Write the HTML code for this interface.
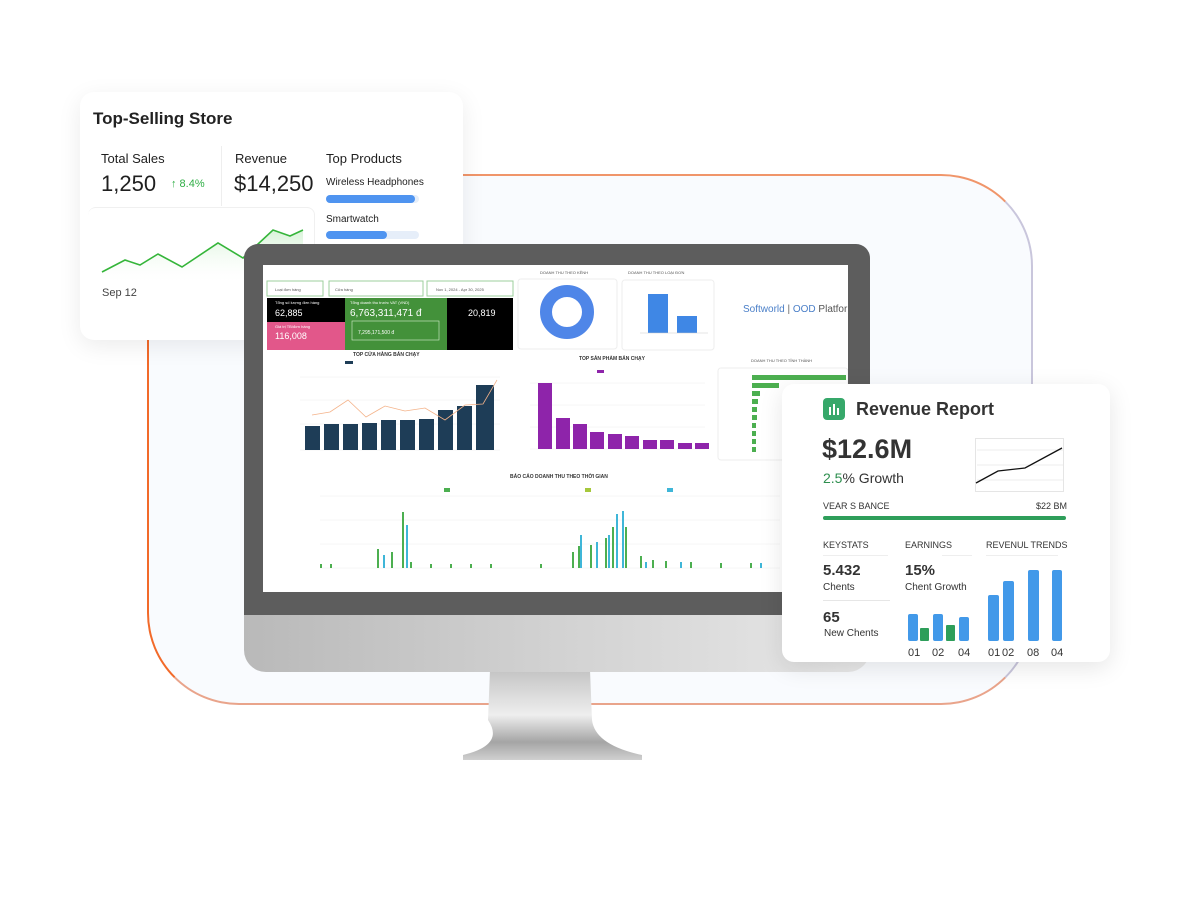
<!DOCTYPE html>
<html><head><meta charset="utf-8"><style>
*{margin:0;padding:0;box-sizing:border-box}
body{width:1200px;height:900px;background:#fff;position:relative;overflow:hidden;font-family:"Liberation Sans",sans-serif;color:#1f1f1f}
.a{position:absolute}
.t{position:absolute;white-space:nowrap}
</style></head><body>

<!-- background rounded frame -->
<div class="a" style="left:147px;top:174px;width:886px;height:531px;border-radius:92px;background:#f9fbfe;border:2px solid #c9c6dc;border-left-color:#f26a2a;border-bottom-color:#e9a48b;border-top-color:#f0956a"></div>

<!-- top-left card (behind monitor) -->
<div class="a" style="left:80px;top:92px;width:383px;height:248px;background:#fff;border-radius:14px;box-shadow:0 6px 24px rgba(0,0,0,.08)"></div>
<div class="t" style="left:93px;top:109px;font-size:17px;font-weight:bold;color:#222">Top-Selling Store</div>
<div class="a" style="left:221px;top:146px;width:1px;height:60px;background:#eee"></div>
<div class="t" style="left:101px;top:151px;font-size:13px">Total Sales</div>
<div class="t" style="left:101px;top:171px;font-size:22px">1,250</div>
<div class="t" style="left:171px;top:178px;font-size:11px;color:#2fae45">&#x2191; 8.4%</div>
<div class="t" style="left:235px;top:151px;font-size:13px">Revenue</div>
<div class="t" style="left:234px;top:171px;font-size:22px">$14,250</div>
<div class="t" style="left:326px;top:151px;font-size:13px">Top Products</div>
<div class="t" style="left:326px;top:177px;font-size:10px">Wireless Headphones</div>
<div class="a" style="left:326px;top:195px;width:93px;height:8px;border-radius:4px;background:#e6eef9"><div style="width:89px;height:8px;border-radius:4px;background:#4f94f0"></div></div>
<div class="t" style="left:326px;top:214px;font-size:10px">Smartwatch</div>
<div class="a" style="left:326px;top:231px;width:93px;height:8px;border-radius:4px;background:#e6eef9"><div style="width:61px;height:8px;border-radius:4px;background:#4f94f0"></div></div>
<div class="a" style="left:88px;top:207px;width:227px;height:125px;background:#fff;border-radius:8px;border-top:1px solid #f0f0f0;border-right:1px solid #f0f0f0"></div>
<svg class="a" style="left:0;top:0" width="320" height="340">
<defs><linearGradient id="ga" x1="0" y1="0" x2="0" y2="1"><stop offset="0" stop-color="#d8f3d8"/><stop offset="1" stop-color="#fff" stop-opacity="0"/></linearGradient></defs>
<polygon points="102,272 125,260 140,265 158,254 182,267 218,243 243,258 273,230 290,236 303,230 303,285 102,285" fill="url(#ga)"/>
<polyline points="102,272 125,260 140,265 158,254 182,267 218,243 243,258 273,230 290,236 303,230" fill="none" stroke="#35b53a" stroke-width="1.6"/>
</svg>
<div class="t" style="left:102px;top:287px;font-size:11px;color:#444">Sep 12</div>

<!-- monitor stand -->
<svg class="a" style="left:455px;top:660px" width="200" height="105">
<defs><linearGradient id="st" x1="0" y1="0" x2="0" y2="1"><stop offset="0" stop-color="#c4c4c4"/><stop offset=".5" stop-color="#eeeeee"/><stop offset=".8" stop-color="#a5a5a5"/><stop offset="1" stop-color="#d0d0d0"/></linearGradient></defs>
<path d="M35 10 L135 10 L137 60 Q140 85 187 95 L187 100 L8 100 L8 95 Q50 85 33 60 Z" fill="url(#st)"/>
</svg>
<!-- chin -->
<div class="a" style="left:244px;top:600px;width:626px;height:72px;border-radius:0 0 22px 22px;background:linear-gradient(90deg,#b9b9b9,#d2d2d2 50%,#e8e8e8)"></div>
<!-- bezel -->
<div class="a" style="left:244px;top:244px;width:626px;height:371px;border-radius:14px 14px 0 0;background:#5d5d5d"></div>
<!-- screen -->
<div class="a" style="left:263px;top:265px;width:585px;height:327px;background:#fff;overflow:hidden">
<svg width="585" height="327" style="position:absolute;left:0;top:0;font-family:'Liberation Sans',sans-serif">
<g transform="translate(-263,-265)">
<rect x="267" y="281" width="56" height="15" fill="#fff" stroke="#9ccf9c"/>
<rect x="329" y="281" width="94" height="15" fill="#fff" stroke="#9ccf9c"/>
<rect x="427" y="281" width="86" height="15" fill="#fff" stroke="#9ccf9c"/>
<text x="275" y="291" font-size="4" fill="#555">Loại đơn hàng</text>
<text x="335" y="291" font-size="4" fill="#555">Cửa hàng</text>
<text x="436" y="291" font-size="4" fill="#555">Nov 1, 2024 - Apr 30, 2025</text>
<rect x="267" y="298" width="78" height="25" fill="#000"/>
<rect x="267" y="322" width="78" height="28" fill="#e2578a"/>
<rect x="345" y="298" width="102" height="52" fill="#43913a"/>
<rect x="447" y="298" width="66" height="52" fill="#000"/>
<text x="275" y="304" font-size="4" fill="#fff">Tổng số lượng đơn hàng</text>
<text x="275" y="316" font-size="9" fill="#fff">62,885</text>
<text x="275" y="328" font-size="4" fill="#fff">Giá trị TB/đơn hàng</text>
<text x="275" y="339" font-size="9" fill="#fff">116,008</text>
<text x="350" y="304" font-size="4" fill="#fff">Tổng doanh thu trước VAT (VND)</text>
<text x="350" y="316" font-size="10" fill="#fff">6,763,311,471 đ</text>
<rect x="352" y="321" width="87" height="19" fill="none" stroke="#d8efd0" stroke-width=".6"/>
<text x="358" y="334" font-size="5" fill="#fff">7,295,171,500 đ</text>
<text x="468" y="316" font-size="9" fill="#fff">20,819</text>
<rect x="518" y="279" width="99" height="70" rx="3" fill="#fff" stroke="#eee"/>
<text x="540" y="274" font-size="4" fill="#555">DOANH THU THEO KÊNH</text>
<circle cx="567" cy="312" r="21" fill="none" stroke="#4f86e8" stroke-width="12"/>
<rect x="622" y="280" width="92" height="70" rx="3" fill="#fff" stroke="#eee"/>
<text x="628" y="274" font-size="4" fill="#555">DOANH THU THEO LOẠI ĐƠN</text>
<rect x="648" y="294" width="20" height="39" fill="#3f87e5"/>
<rect x="677" y="316" width="20" height="17" fill="#3f87e5"/>
<line x1="640" y1="333" x2="708" y2="333" stroke="#ccc" stroke-width=".5"/>
<text x="743" y="312" font-size="10" fill="#4a7fc8">Softworld <tspan fill="#666">|</tspan> OOD <tspan fill="#555">Platform</tspan></text>
<text x="353" y="356" font-size="5" font-weight="bold" fill="#333">TOP CỬA HÀNG BÁN CHẠY</text>
<rect x="345" y="361" width="8" height="3" fill="#1e3d57"/>
<g stroke="#eee" stroke-width=".5"><line x1="300" y1="377" x2="500" y2="377"/><line x1="300" y1="400" x2="500" y2="400"/><line x1="300" y1="424" x2="500" y2="424"/><line x1="300" y1="450" x2="500" y2="450"/></g>
<g fill="#1e3d57">
<rect x="305" y="426" width="15" height="24"/><rect x="324" y="424" width="15" height="26"/><rect x="343" y="424" width="15" height="26"/><rect x="362" y="423" width="15" height="27"/><rect x="381" y="420" width="15" height="30"/><rect x="400" y="420" width="15" height="30"/><rect x="419" y="419" width="15" height="31"/><rect x="438" y="410" width="15" height="40"/><rect x="457" y="406" width="15" height="44"/><rect x="476" y="385" width="18" height="65"/>
</g>
<polyline points="312,415 330,412 348,400 366,417 385,406 405,411 425,408 445,420 465,405 483,404 497,380" fill="none" stroke="#f4b38a" stroke-width=".8"/>
<text x="579" y="360" font-size="5" font-weight="bold" fill="#333">TOP SẢN PHẨM BÁN CHẠY</text>
<rect x="597" y="370" width="7" height="3" fill="#8e24aa"/>
<g stroke="#eee" stroke-width=".5"><line x1="530" y1="383" x2="705" y2="383"/><line x1="530" y1="405" x2="705" y2="405"/><line x1="530" y1="427" x2="705" y2="427"/><line x1="530" y1="449" x2="705" y2="449"/></g>
<g fill="#8e24aa">
<rect x="538" y="383" width="14" height="66"/><rect x="556" y="418" width="14" height="31"/><rect x="573" y="424" width="14" height="25"/><rect x="590" y="432" width="14" height="17"/><rect x="608" y="434" width="14" height="15"/><rect x="625" y="436" width="14" height="13"/><rect x="643" y="440" width="14" height="9"/><rect x="660" y="440" width="14" height="9"/><rect x="678" y="443" width="14" height="6"/><rect x="695" y="443" width="14" height="6"/>
</g>
<text x="751" y="362" font-size="4" fill="#555">DOANH THU THEO TỈNH THÀNH</text>
<rect x="718" y="368" width="130" height="92" rx="3" fill="#fff" stroke="#eee"/>
<g fill="#4caf50">
<rect x="752" y="375" width="94" height="5"/><rect x="752" y="383" width="27" height="5"/><rect x="752" y="391" width="8" height="5"/><rect x="752" y="399" width="6" height="5"/><rect x="752" y="407" width="5" height="5"/><rect x="752" y="415" width="5" height="5"/><rect x="752" y="423" width="4" height="5"/><rect x="752" y="431" width="4" height="5"/><rect x="752" y="439" width="4" height="5"/><rect x="752" y="447" width="4" height="5"/>
</g>
<text x="510" y="478" font-size="5" font-weight="bold" fill="#333">BÁO CÁO DOANH THU THEO THỜI GIAN</text>
<rect x="444" y="488" width="6" height="4" fill="#4caf50"/><rect x="585" y="488" width="6" height="4" fill="#a6c83c"/><rect x="667" y="488" width="6" height="4" fill="#3fb6d8"/>
<g stroke="#eee" stroke-width=".5"><line x1="320" y1="496" x2="780" y2="496"/><line x1="320" y1="520" x2="780" y2="520"/><line x1="320" y1="544" x2="780" y2="544"/><line x1="320" y1="568" x2="780" y2="568"/></g>
<g fill="#4caf50">
<rect x="320" y="564" width="2" height="4"/><rect x="330" y="564" width="2" height="4"/><rect x="377" y="549" width="2" height="19"/><rect x="391" y="552" width="2" height="16"/><rect x="402" y="512" width="2" height="56"/><rect x="410" y="562" width="2" height="6"/><rect x="430" y="564" width="2" height="4"/><rect x="450" y="564" width="2" height="4"/><rect x="470" y="564" width="2" height="4"/><rect x="490" y="564" width="2" height="4"/><rect x="540" y="564" width="2" height="4"/><rect x="572" y="552" width="2" height="16"/><rect x="578" y="546" width="2" height="22"/><rect x="590" y="545" width="2" height="23"/><rect x="605" y="538" width="2" height="30"/><rect x="612" y="527" width="2" height="41"/><rect x="625" y="527" width="2" height="41"/><rect x="640" y="556" width="2" height="12"/><rect x="652" y="560" width="2" height="8"/><rect x="665" y="561" width="2" height="7"/><rect x="690" y="562" width="2" height="6"/><rect x="720" y="563" width="2" height="5"/><rect x="750" y="563" width="2" height="5"/>
</g>
<g fill="#3fb6d8">
<rect x="383" y="555" width="2" height="13"/><rect x="406" y="525" width="2" height="43"/><rect x="580" y="535" width="2" height="33"/><rect x="596" y="542" width="2" height="26"/><rect x="608" y="535" width="2" height="33"/><rect x="616" y="514" width="2" height="54"/><rect x="622" y="511" width="2" height="57"/><rect x="645" y="562" width="2" height="6"/><rect x="680" y="562" width="2" height="6"/><rect x="760" y="563" width="2" height="5"/>
</g>
</g></svg>
</div>

<!-- revenue report card -->
<div class="a" style="left:782px;top:384px;width:328px;height:278px;background:#fff;border-radius:12px;box-shadow:0 6px 24px rgba(0,0,0,.1)"></div>
<div class="a" style="left:823px;top:398px;width:22px;height:22px;border-radius:4px;background:#36a86a"></div>
<div class="a" style="left:829px;top:407px;width:2px;height:8px;background:#fff"></div>
<div class="a" style="left:833px;top:404px;width:2px;height:11px;background:#fff"></div>
<div class="a" style="left:837px;top:408px;width:2px;height:7px;background:#fff"></div>
<div class="t" style="left:856px;top:399px;font-size:18px;font-weight:bold;color:#333">Revenue Report</div>
<div class="t" style="left:822px;top:434px;font-size:27px;font-weight:bold;color:#333">$12.6M</div>
<div class="t" style="left:823px;top:470px;font-size:14px;color:#333"><span style="color:#2e8f4f">2.5</span>% Growth</div>
<svg class="a" style="left:975px;top:438px" width="90" height="54">
<rect x=".5" y=".5" width="88" height="53" fill="#fff" stroke="#e5e5e5"/>
<line x1="2" y1="12" x2="88" y2="12" stroke="#eee"/><line x1="2" y1="27" x2="88" y2="27" stroke="#eee"/><line x1="2" y1="42" x2="88" y2="42" stroke="#eee"/>
<polyline points="1,45 23,33 50,30 87,10" fill="none" stroke="#111" stroke-width="1.3"/>
</svg>
<div class="t" style="left:823px;top:501px;font-size:9px;color:#333">VEAR S BANCE</div>
<div class="t" style="left:1036px;top:501px;font-size:9px;color:#333">$22 BM</div>
<div class="a" style="left:823px;top:516px;width:243px;height:4px;border-radius:2px;background:#2e9e5a"></div>
<div class="t" style="left:823px;top:540px;font-size:9px;color:#333">KEYSTATS</div>
<div class="t" style="left:905px;top:540px;font-size:9px;color:#333">EARNINGS</div>
<div class="t" style="left:986px;top:540px;font-size:9px;color:#333">REVENUL TRENDS</div>
<div class="a" style="left:823px;top:555px;width:65px;height:1px;background:#eee"></div>
<div class="a" style="left:942px;top:555px;width:30px;height:1px;background:#eee"></div>
<div class="a" style="left:986px;top:555px;width:72px;height:1px;background:#eee"></div>
<div class="t" style="left:823px;top:562px;font-size:15px;font-weight:bold;color:#333">5.432</div>
<div class="t" style="left:823px;top:582px;font-size:10px;color:#333">Chents</div>
<div class="a" style="left:823px;top:600px;width:67px;height:1px;background:#e6e6e6"></div>
<div class="t" style="left:823px;top:609px;font-size:15px;font-weight:bold;color:#333">65</div>
<div class="t" style="left:824px;top:628px;font-size:10px;color:#333">New Chents</div>
<div class="t" style="left:905px;top:562px;font-size:15px;font-weight:bold;color:#333">15%</div>
<div class="t" style="left:905px;top:582px;font-size:10px;color:#333">Chent Growth</div>
<svg class="a" style="left:900px;top:560px" width="170" height="100" font-family="Liberation Sans" font-size="11" fill="#333">
<g fill="#4299e9">
<rect x="8" y="54" width="10" height="27" rx="2"/><rect x="33" y="54" width="10" height="27" rx="2"/><rect x="59" y="57" width="10" height="24" rx="2"/>
<rect x="88" y="35" width="11" height="46" rx="2"/><rect x="103" y="21" width="11" height="60" rx="2"/><rect x="128" y="10" width="11" height="71" rx="2"/><rect x="152" y="10" width="10" height="71" rx="2"/>
</g>
<g fill="#2e9e5a"><rect x="20" y="68" width="9" height="13" rx="1"/><rect x="46" y="65" width="9" height="16" rx="1"/></g>
<text x="8" y="96">01</text><text x="32" y="96">02</text><text x="58" y="96">04</text>
<text x="88" y="96">01</text><text x="102" y="96">02</text><text x="127" y="96">08</text><text x="151" y="96">04</text>
</svg>
</body></html>
